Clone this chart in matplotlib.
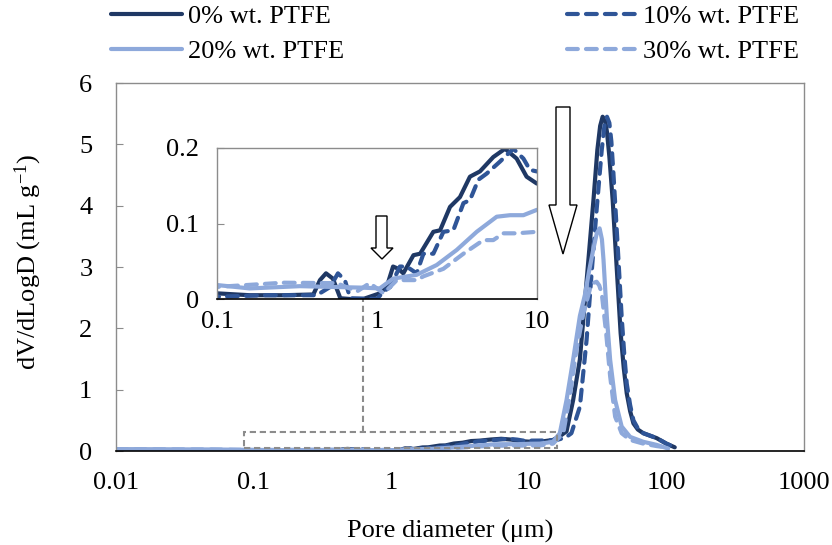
import matplotlib
matplotlib.use("Agg")
import matplotlib.pyplot as plt
from matplotlib.patches import Polygon, Rectangle
from matplotlib.lines import Line2D

plt.rcParams['font.family'] = ['Liberation Serif', 'DejaVu Serif']
plt.rcParams['mathtext.fontset'] = 'custom'
plt.rcParams['mathtext.rm'] = 'Liberation Serif'
plt.rcParams['mathtext.it'] = 'Liberation Serif:italic'
FS = 19
plt.rcParams['font.size'] = FS

# ---------------- data (pore diameter in µm, dV/dLogD in mL/g) ----------------
labels = ["0% wt. PTFE", "10% wt. PTFE", "20% wt. PTFE", "30% wt. PTFE"]

x0 = [0.01, 0.03, 0.06, 0.1, 0.16, 0.26, 0.40, 0.44, 0.48, 0.53, 0.59, 0.68, 0.82,
      1.04, 1.15, 1.26, 1.36, 1.46, 1.69, 1.86, 2.25, 2.48, 2.86, 3.30, 3.81, 4.40,
      5.33, 6.31, 7.46, 8.61, 9.96, 12, 15, 17, 18.8, 21, 23.5, 25.6, 27.5, 29.5,
      31.5, 33.0, 34.4, 35.8, 37.0, 38.5, 40.7, 43.5, 46.5, 49, 51.5, 54.5, 57.6, 62,
      68, 85, 100, 115]
y0 = [0.02, 0.015, 0.01, 0.0075, 0.005, 0.005, 0.006, 0.025, 0.034, 0.027, 0.001, 0.0, 0.0,
      0.0075, 0.016, 0.043, 0.040, 0.034, 0.058, 0.060, 0.089, 0.091, 0.122, 0.135, 0.162, 0.169,
      0.188, 0.199, 0.186, 0.162, 0.153, 0.15, 0.18, 0.25, 0.32, 0.83, 1.49, 2.46, 3.28, 4.09,
      4.91, 5.30, 5.45, 5.40, 5.20, 4.80, 4.09, 3.00, 1.92, 1.35, 0.94, 0.65, 0.45, 0.35,
      0.29, 0.21, 0.12, 0.06]

x10 = [0.01, 0.05, 0.1, 0.204, 0.42, 0.51, 0.57, 0.63, 0.68, 1.0, 1.10, 1.21, 1.39, 1.53,
       1.77, 1.95, 2.25, 2.60, 3.0, 3.47, 3.81, 4.30, 4.84, 5.87, 7.11, 8.22, 9.04, 9.96,
       12, 16, 18.5, 20.4, 23.5, 26.3, 28.6, 31.1, 33.9, 35.5, 37.0, 38.5, 39.8, 41.2, 44,
       47.3, 49.5, 51.5, 54.5, 57.6, 62, 68, 85, 100, 115]
y10 = [0.02, 0.01, 0.003, 0.005, 0.005, 0.016, 0.034, 0.025, 0.001, 0.0, 0.01, 0.016, 0.043, 0.043,
       0.034, 0.060, 0.060, 0.089, 0.091, 0.127, 0.131, 0.158, 0.166, 0.182, 0.199, 0.186, 0.171, 0.169,
       0.17, 0.18, 0.22, 0.29, 0.72, 1.81, 2.90, 3.93, 4.91, 5.32, 5.45, 5.35, 5.05, 4.53, 3.44,
       2.19, 1.55, 1.10, 0.75, 0.50, 0.37, 0.29, 0.21, 0.12, 0.06]

x20 = [0.01, 0.05, 0.1, 0.16, 0.33, 0.82, 1.04, 1.26, 1.77, 2.36, 3.15, 4.2, 5.6, 6.78,
       8.22, 9.96, 12, 15, 16.8, 18.8, 21, 23.5, 25.6, 27.5, 29.5, 31.2, 32.7, 34.0, 34.9,
       36.9, 39, 42.4, 47.3, 54.5, 68, 85, 103]
y20 = [0.03, 0.025, 0.0185, 0.014, 0.017, 0.015, 0.014, 0.027, 0.032, 0.045, 0.065, 0.089, 0.109, 0.111,
       0.111, 0.118, 0.12, 0.15, 0.29, 0.83, 1.49, 2.20, 2.55, 2.95, 3.30, 3.55, 3.63, 3.45, 3.12,
       2.19, 1.49, 0.83, 0.40, 0.23, 0.15, 0.10, 0.04]

x30 = [0.01, 0.05, 0.1, 0.26, 0.56, 0.75, 0.90, 1.10, 1.33, 1.77, 1.95, 2.60, 3.47, 4.62,
       5.33, 6.17, 7.46, 9.96, 12, 15, 17.8, 20, 22.2, 24.9, 27.9, 29.5, 31.1, 32.5, 33.9,
       36.5, 39, 42.4, 47.3, 54.5, 68, 85, 92]
y30 = [0.03, 0.025, 0.016, 0.0216, 0.021, 0.010, 0.021, 0.0075, 0.025, 0.025, 0.030, 0.040, 0.060, 0.078,
       0.078, 0.087, 0.087, 0.089, 0.09, 0.12, 0.29, 0.94, 1.65, 2.24, 2.65, 2.74, 2.76, 2.70, 2.57,
       1.92, 1.22, 0.56, 0.29, 0.18, 0.12, 0.08, 0.07]

main_xticks = [0.01, 0.1, 1, 10, 100, 1000]
main_xticklabels = ["0.01", "0.1", "1", "10", "100", "1000"]
main_yticks = [0, 1, 2, 3, 4, 5, 6]
inset_xticks = [0.1, 1, 10]
inset_xticklabels = ["0.1", "1", "10"]
inset_yticks = [0, 0.1, 0.2]
inset_yticklabels = ["0", "0.1", "0.2"]

# ---------------- styles ----------------
DARK = "#1F3864"
MID = "#2F5597"
LIGHT = "#8EA9DB"
GREY = "#8C8C8C"
LW = 3.0
DASH = (0, (2.6, 1.95))
series = [
    (x0, y0, dict(color=DARK, lw=LW, ls="-", solid_capstyle="round", solid_joinstyle="round")),
    (x10, y10, dict(color=MID, lw=LW, ls=DASH, dash_capstyle="round", dash_joinstyle="round")),
    (x20, y20, dict(color=LIGHT, lw=LW, ls="-", solid_capstyle="round", solid_joinstyle="round")),
    (x30, y30, dict(color=LIGHT, lw=LW, ls=DASH, dash_capstyle="round", dash_joinstyle="round")),
]

W, H = 832, 545
fig = plt.figure(figsize=(W / 100, H / 100), dpi=100)


def fx(px):
    return px / W


def fy(py):
    return 1 - py / H


# main axes
ax = fig.add_axes([fx(116), fy(451), fx(804) - fx(116), fy(83) - fy(451)])
handles = []
for xs, ys, st in series:
    h, = ax.plot(xs, ys, **st)
    handles.append(h)
ax.set_xscale("log")
ax.set_xlim(0.01, 1000)
ax.set_ylim(0, 6)
ax.set_xticks(main_xticks)
ax.set_xticklabels(main_xticklabels)
ax.minorticks_off()
ax.set_yticks(main_yticks)
ax.tick_params(axis="x", length=0, pad=15, labelsize=FS)
ax.tick_params(axis="y", direction="in", length=5, width=0.8, color=GREY, pad=17, labelsize=FS)
for s in ["left", "top", "right"]:
    ax.spines[s].set_color(GREY)
    ax.spines[s].set_linewidth(1.0)
ax.spines["bottom"].set_color("black")
ax.spines["bottom"].set_linewidth(1.2)

# zoom box and connector (annotation)
ax.add_patch(Rectangle((0.085, 0.05), 16 - 0.085, 0.26, fill=False, edgecolor=GREY,
                       lw=1.5, ls=(0, (3, 1.8)), zorder=5))
ax.add_line(Line2D([0.62, 0.62], [0.31, 2.5], color=GREY, lw=1.5, ls=(0, (3, 1.8)), zorder=5))

# inset axes
axi = fig.add_axes([fx(217), fy(299), fx(537) - fx(217), fy(148) - fy(299)])
axi.set_facecolor("white")
for xs, ys, st in series:
    axi.plot(xs, ys, **st)
axi.set_xscale("log")
axi.set_xlim(0.1, 10)
axi.set_ylim(0, 0.2)
axi.set_xticks(inset_xticks)
axi.set_xticklabels(inset_xticklabels)
axi.minorticks_off()
axi.set_yticks(inset_yticks)
axi.set_yticklabels(inset_yticklabels)
axi.tick_params(axis="x", length=0, pad=9, labelsize=FS)
axi.tick_params(axis="y", direction="in", length=5, width=0.8, color=GREY, pad=13, labelsize=FS)
for s in ["left", "top", "right"]:
    axi.spines[s].set_color(GREY)
    axi.spines[s].set_linewidth(1.0)
axi.spines["bottom"].set_color("black")
axi.spines["bottom"].set_linewidth(1.2)


# hollow arrows (figure pixel coordinates)
def arrow(cx, sx0, sx1, top, hbase, hx0, hx1, tip):
    pts = [(sx0, top), (sx1, top), (sx1, hbase), (hx1, hbase), (cx, tip),
           (hx0, hbase), (sx0, hbase)]
    fig.patches.append(Polygon([(fx(a), fy(b)) for a, b in pts], closed=True,
                               transform=fig.transFigure, facecolor="white",
                               edgecolor="black", lw=1.0, zorder=10))


arrow(563, 556, 570, 107, 205, 549, 577, 254)
arrow(382, 376, 387, 216, 248, 371, 393, 259)

# axis labels
fig.text(fx(28), fy(262), "dV/dLogD (mL g$^{-1}$)", rotation=90, ha="center", va="center", fontsize=FS)
fig.text(fx(450), fy(531), "Pore diameter (μm)", ha="center", va="center", fontsize=FS)

# legend
order = [0, 2, 1, 3]
leg = fig.legend([handles[i] for i in order], [labels[i] for i in order],
                 loc="upper left", bbox_to_anchor=(fx(111), fy(5)), ncol=2,
                 frameon=False, fontsize=FS, handlelength=2.7, handletextpad=0.2,
                 columnspacing=8.45, labelspacing=0.42, borderpad=0, borderaxespad=0)

fig.savefig("out.png", dpi=100)
